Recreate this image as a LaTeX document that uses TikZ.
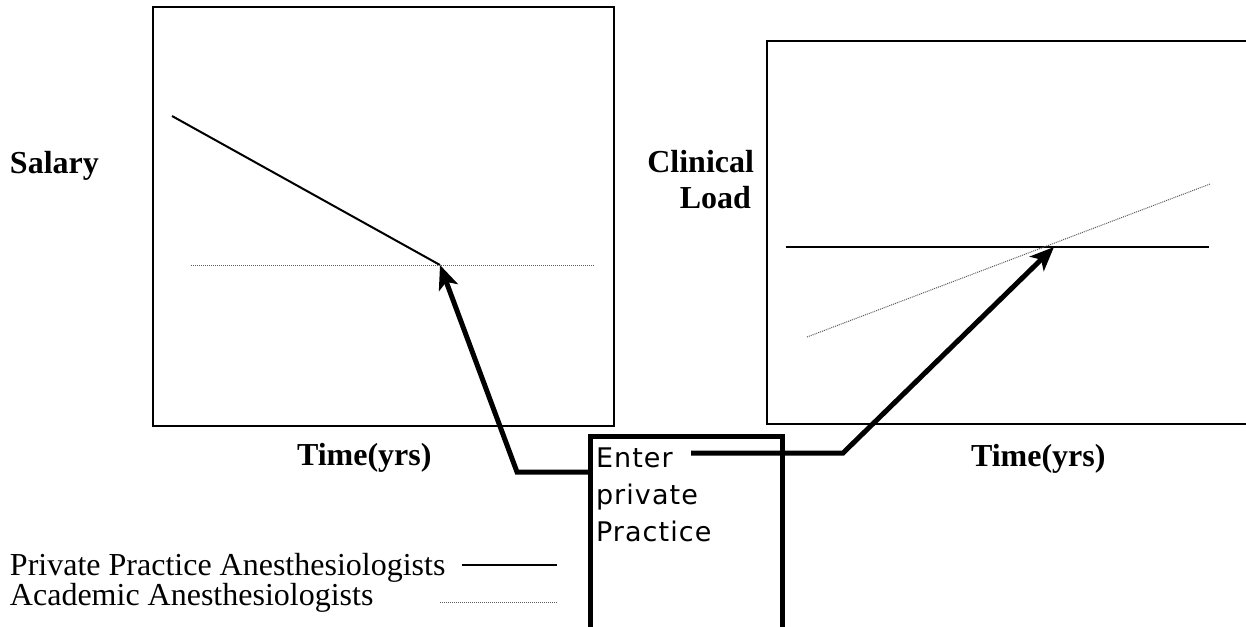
\documentclass[tikz,border=0pt]{standalone}
\usepackage{fontspec}
\setmainfont{Liberation Serif}
\newfontfamily\boxfont[LetterSpace=4]{DejaVu Sans}
\usepackage{tikz}
\usetikzlibrary{arrows.meta}
\usetikzlibrary{positioning, calc}

\begin{document}
\begin{tikzpicture}[
        x=0.5pt, y=-0.5pt,
        every node/.style={inner sep=0pt, outer sep=0pt},
        axislbl/.style={font=\fontsize{16}{18}\selectfont\bfseries},
        legendlbl/.style={font=\fontsize{16}{16}\selectfont},
        panel/.style={line width=0.85pt},
        privline/.style={line width=1pt},
        acadline/.style={line width=0.5pt, gray!70!black, dash pattern=on 0.5pt off 0.5pt},
        bigarrow/.style={line width=2.5pt, -{Stealth[length=12pt, width=10pt, inset=3pt]}}
        ]
        \useasboundingbox (0,0) rectangle (1246,626);

        % Panels
        \draw[panel] (153,7) rectangle (614,426);
        \draw[panel] (1260,41) -- (767,41) -- (767,424) -- (1260,424);

        % Curves
        \coordinate (skink) at (440,265);
        \coordinate (cross) at (1054,247);
        \draw[privline] (172,116) -- (skink);
        \draw[acadline] (191,265) -- (595,265);
        \draw[privline, line width=0.6pt] (786,247) -- (1209,247);
        \draw[acadline] (807,337) -- (1210,184);

        % Nodes
        \node[axislbl, anchor=base west] (salary) at (10,173) {Salary};
        \node[axislbl, anchor=base east] (clinical) at (754,172) {Clinical};
        \node[axislbl, anchor=base east] (load) at (751,208) {Load};
        \node[axislbl, anchor=base west] (ltime) at (297,465) {Time(yrs)};
        \node[axislbl, anchor=base west] (rtime) at (971,466) {Time(yrs)};
        \node[draw, line width=2.5pt, anchor=north west, minimum width=96pt, minimum height=110pt] (entry) at (590,436) {};
        \node[anchor=north west, align=left, font=\boxfont\fontsize{13.5}{18.5}\selectfont] (enterlbl) at (596,448) {Enter\\private\\Practice};
        \node[legendlbl, anchor=base west] (privlbl) at (10,575) {Private Practice Anesthesiologists};
        \node[legendlbl, anchor=base west] (acadlbl) at (10,605) {Academic Anesthesiologists};

        % Legend keys
        \coordinate (privkey) at (557,565);
        \coordinate (acadkey) at (557,602);
        \draw[privline] (privlbl.base east |- privkey) ++(17,0) -- (privkey);
        \draw[acadline] (440,602) -- (acadkey);

        % Arrows
        \coordinate (lfoot) at (517,472);
        \coordinate (rfoot) at (843,453);
        \coordinate (rstart) at (691,453);
        \draw[bigarrow] (entry.west |- lfoot) -- (lfoot) -- (skink);
        \draw[bigarrow] (rstart) -- (rfoot) -- (cross);

        \end{tikzpicture}
\end{document}
